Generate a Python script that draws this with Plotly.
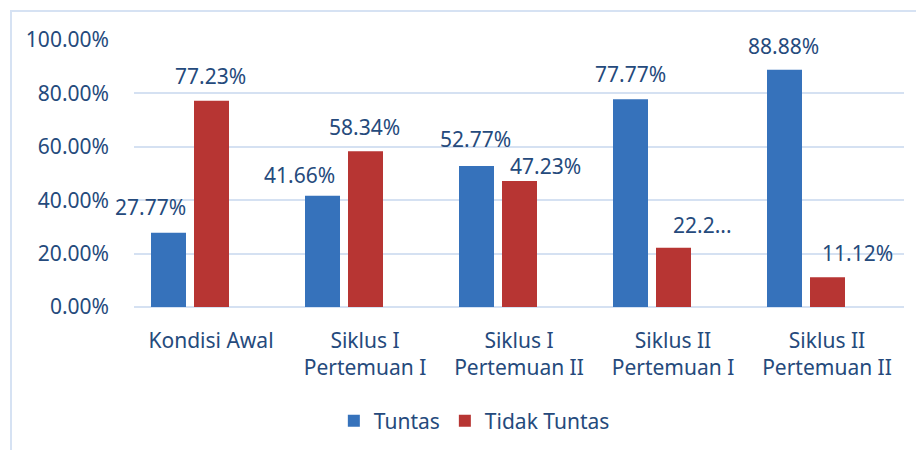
import plotly.graph_objects as go

categories = ["Kondisi Awal", "Siklus I<br>Pertemuan I", "Siklus I<br>Pertemuan II",
              "Siklus II<br>Pertemuan I", "Siklus II<br>Pertemuan II"]
tuntas = [27.77, 41.66, 52.77, 77.77, 88.88]
tidak_tuntas = [77.23, 58.34, 47.23, 22.23, 11.12]
tuntas_labels = ["27.77%", "41.66%", "52.77%", "77.77%", "88.88%"]
tidak_labels = ["77.23%", "58.34%", "47.23%", "22.2...", "11.12%"]
y_ticks = [0, 20, 40, 60, 80, 100]
y_tick_text = ["0.00%", "20.00%", "40.00%", "60.00%", "80.00%", "100.00%"]

# label nudges (pixels, relative to category centre / bar top)
tuntas_dx = [-61, -66, -44, -43, -44]
tuntas_dy = [26, 21, 27, 25, 24]
tidak_dx = [-1, -1, 26, 29, 30]
tidak_dy = [25, 24, 15, 23, 24]

TXT = "#254a7c"
FONT = "Noto Sans"
FS = 21
BW = 35 / 154

fig = go.Figure()
fig.add_trace(go.Bar(x=categories, y=tuntas, name="Tuntas",
                     marker=dict(color="#3672bb", line=dict(width=0)),
                     width=BW, offset=-60 / 154))
fig.add_trace(go.Bar(x=categories, y=tidak_tuntas, name="Tidak Tuntas",
                     marker=dict(color="#b73533", line=dict(width=0)),
                     width=BW, offset=-17 / 154))

anns = []
for c, v, t, dx, dy in zip(categories, tuntas, tuntas_labels, tuntas_dx, tuntas_dy):
    anns.append(dict(x=c, y=v, text=t, xshift=dx, yshift=dy, showarrow=False,
                     xanchor="center", yanchor="middle",
                     font=dict(family=FONT, size=FS, color=TXT)))
for c, v, t, dx, dy in zip(categories, tidak_tuntas, tidak_labels, tidak_dx, tidak_dy):
    anns.append(dict(x=c, y=v, text=t, xshift=dx, yshift=dy, showarrow=False,
                     xanchor="center", yanchor="middle",
                     font=dict(family=FONT, size=FS, color=TXT)))

# page body has an 8px margin, so the figure is laid out 8px in from the window edge
W, H = 916, 442
L, R, T, B = 126, 20, 32, 143
pw = W - L - R
ph = H - T - B

fig.update_layout(
    width=W, height=H,
    margin=dict(l=L, r=R, t=T, b=B, autoexpand=False),
    paper_bgcolor="white", plot_bgcolor="white",
    barmode="group",
    font=dict(family=FONT, size=FS, color=TXT),
    showlegend=True,
    legend=dict(orientation="h", x=0.442, xanchor="center", y=-(413 - (H - B)) / ph,
                yanchor="middle", font=dict(family=FONT, size=FS, color=TXT),
                traceorder="normal"),
    annotations=anns,
    shapes=[dict(type="rect", xref="paper", yref="paper",
                 x0=(3 - L) / pw, x1=(W + 20 - L) / pw,
                 y0=-(H + 20 - (H - B)) / ph, y1=(H - B - 3) / ph,
                 line=dict(color="#d6e2f3", width=2), fillcolor="rgba(0,0,0,0)",
                 layer="below")],
)
fig.update_xaxes(range=[-0.5, 4.5], showgrid=False, showline=False, ticks="", automargin=False,
                 tickfont=dict(size=FS, color=TXT), ticklabelstandoff=19)
fig.update_yaxes(range=[0, 100], tickvals=y_ticks, ticktext=y_tick_text, automargin=False,
                 showgrid=True, gridcolor="#d5e1f2", gridwidth=2, zeroline=True,
                 zerolinecolor="#d5e1f2", zerolinewidth=2, showline=False,
                 tickfont=dict(size=FS, color=TXT), ticklabelstandoff=24)

fig.write_html("out.html")
